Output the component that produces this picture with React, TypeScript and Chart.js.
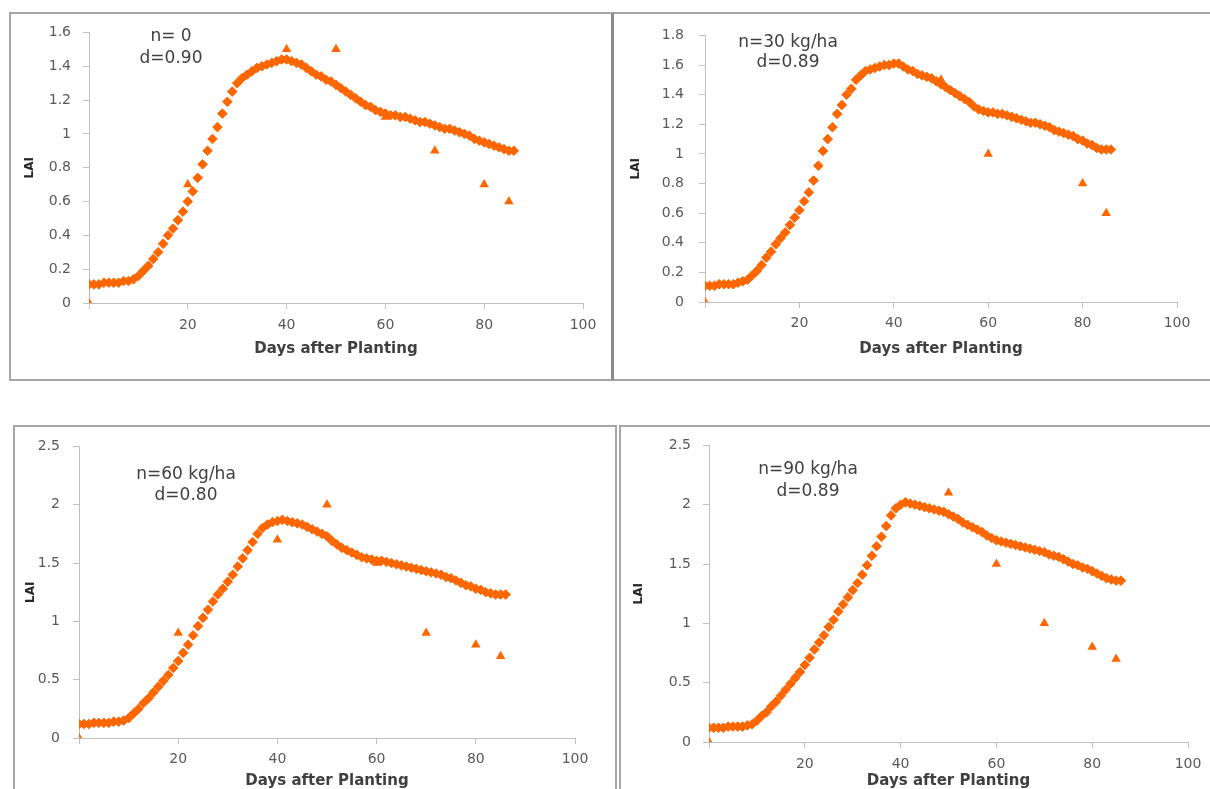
import React, { useEffect, useRef } from "react";
import { Chart, registerables } from "chart.js";

Chart.register(...registerables);

// ---------------- data ----------------
const DAYS = [
  0, 1, 2, 3, 4, 5, 6, 7, 8, 9, 10, 11, 12, 13, 14, 15, 16, 17, 18, 19,
  20, 21, 22, 23, 24, 25, 26, 27, 28, 29, 30, 31, 32, 33, 34, 35, 36, 37, 38, 39,
  40, 41, 42, 43, 44, 45, 46, 47, 48, 49, 50, 51, 52, 53, 54, 55, 56, 57, 58, 59,
  60, 61, 62, 63, 64, 65, 66, 67, 68, 69, 70, 71, 72, 73, 74, 75, 76, 77, 78, 79,
  80, 81, 82, 83, 84, 85, 86,
];

const SIM_N0 = [
  0.11, 0.11, 0.11, 0.12, 0.12, 0.12, 0.12, 0.13, 0.13, 0.14,
  0.16, 0.19, 0.22, 0.26, 0.30, 0.35, 0.40, 0.44, 0.49, 0.54,
  0.60, 0.66, 0.74, 0.82, 0.90, 0.97, 1.04, 1.12, 1.19, 1.25,
  1.30, 1.33, 1.35, 1.37, 1.39, 1.40, 1.41, 1.42, 1.43, 1.44,
  1.44, 1.43, 1.42, 1.41, 1.39, 1.37, 1.35, 1.34, 1.32, 1.31,
  1.29, 1.27, 1.25, 1.23, 1.21, 1.19, 1.17, 1.16, 1.14, 1.13,
  1.12, 1.11, 1.11, 1.10, 1.10, 1.09, 1.08, 1.07, 1.07, 1.06,
  1.05, 1.04, 1.03, 1.03, 1.02, 1.01, 1.00, 0.99, 0.97, 0.96,
  0.95, 0.94, 0.93, 0.92, 0.91, 0.90, 0.90,
];

const SIM_N30 = [
  0.11, 0.11, 0.11, 0.12, 0.12, 0.12, 0.12, 0.13, 0.14, 0.15,
  0.18, 0.21, 0.25, 0.30, 0.34, 0.39, 0.43, 0.47, 0.52, 0.57,
  0.62, 0.68, 0.74, 0.82, 0.92, 1.02, 1.10, 1.18, 1.27, 1.33,
  1.40, 1.44, 1.50, 1.53, 1.56, 1.57, 1.58, 1.59, 1.60, 1.60,
  1.61, 1.61, 1.59, 1.57, 1.56, 1.54, 1.53, 1.52, 1.51, 1.49,
  1.47, 1.45, 1.43, 1.41, 1.39, 1.37, 1.35, 1.32, 1.30, 1.29,
  1.28, 1.28, 1.27, 1.27, 1.26, 1.25, 1.24, 1.23, 1.22, 1.21,
  1.21, 1.20, 1.19, 1.18, 1.16, 1.15, 1.14, 1.13, 1.12, 1.10,
  1.09, 1.07, 1.06, 1.04, 1.03, 1.03, 1.03,
];

const SIM_N60 = [
  0.12, 0.12, 0.12, 0.13, 0.13, 0.13, 0.13, 0.14, 0.14, 0.15,
  0.17, 0.21, 0.25, 0.30, 0.34, 0.39, 0.44, 0.49, 0.54, 0.60,
  0.66, 0.73, 0.80, 0.88, 0.96, 1.03, 1.10, 1.17, 1.23, 1.28,
  1.34, 1.40, 1.47, 1.54, 1.61, 1.68, 1.75, 1.80, 1.83, 1.85,
  1.86, 1.87, 1.86, 1.85, 1.84, 1.83, 1.81, 1.79, 1.77, 1.75,
  1.73, 1.69, 1.66, 1.63, 1.61, 1.59, 1.57, 1.55, 1.54, 1.53,
  1.52, 1.52, 1.51, 1.50, 1.49, 1.48, 1.47, 1.46, 1.45, 1.44,
  1.43, 1.42, 1.41, 1.40, 1.38, 1.37, 1.35, 1.33, 1.31, 1.30,
  1.28, 1.27, 1.25, 1.24, 1.23, 1.23, 1.23,
];

const SIM_N90 = [
  0.12, 0.12, 0.12, 0.12, 0.13, 0.13, 0.13, 0.13, 0.14, 0.15,
  0.18, 0.22, 0.25, 0.30, 0.34, 0.39, 0.44, 0.49, 0.54, 0.59,
  0.65, 0.71, 0.78, 0.84, 0.90, 0.97, 1.03, 1.10, 1.16, 1.22,
  1.28, 1.34, 1.41, 1.49, 1.57, 1.65, 1.73, 1.82, 1.91, 1.97,
  2.00, 2.02, 2.01, 2.00, 1.99, 1.98, 1.97, 1.96, 1.95, 1.94,
  1.92, 1.90, 1.88, 1.85, 1.83, 1.81, 1.79, 1.77, 1.74, 1.72,
  1.70, 1.69, 1.68, 1.67, 1.66, 1.65, 1.64, 1.63, 1.62, 1.61,
  1.60, 1.58, 1.57, 1.56, 1.54, 1.52, 1.50, 1.49, 1.47, 1.46,
  1.44, 1.42, 1.40, 1.38, 1.37, 1.36, 1.36,
];

const OBS_DAYS_N0 = [0, 20, 40, 50, 60, 70, 80, 85];
const OBS_LAI_N0 = [0, 0.7, 1.5, 1.5, 1.1, 0.9, 0.7, 0.6];
const OBS_DAYS_N30 = [0, 50, 60, 80, 85];
const OBS_LAI_N30 = [0, 1.5, 1.0, 0.8, 0.6];
const OBS_DAYS_N60 = [0, 20, 40, 50, 60, 70, 80, 85];
const OBS_LAI_N60 = [0, 0.9, 1.7, 2.0, 1.5, 0.9, 0.8, 0.7];
const OBS_DAYS_N90 = [0, 50, 60, 70, 80, 85];
const OBS_LAI_N90 = [0, 2.1, 1.5, 1.0, 0.8, 0.7];

const LABEL_N = ["n= 0", "n=30 kg/ha", "n=60 kg/ha", "n=90 kg/ha"];
const LABEL_D = ["d=0.90", "d=0.89", "d=0.80", "d=0.89"];
const Y_MAX = [1.6, 1.8, 2.5, 2.5];
const Y_STEP = [0.2, 0.2, 0.5, 0.5];
const X_MAX = 100;
const X_STEP = 20;
const X_TITLE = "Days after Planting";
const Y_TITLE = "LAI";

// ---------------- layout ----------------
const ORANGE = "#FF6600";
const FONT = '"DejaVu Sans", "Open Sans", sans-serif';

type Box = { x: number; y: number; w: number; h: number };
type Area = { l: number; t: number; r: number; b: number };
type Spec = {
  idx: number;
  sim: number[];
  obsX: number[];
  obsY: number[];
  box: Box;
  area: Area;
  border: React.CSSProperties;
  laiX: number;
  titleY: number;
  annX: number;
  annY: [number, number];
  yPad: number;
  xPad: number;
};

const GRAY = "2px solid #A6A6A6";

const SPECS: Spec[] = [
  {
    idx: 0, sim: SIM_N0, obsX: OBS_DAYS_N0, obsY: OBS_LAI_N0,
    box: { x: 9, y: 12, w: 605, h: 369 },
    area: { l: 89, t: 23, r: 583, b: 303 },
    border: { borderTop: GRAY, borderLeft: GRAY, borderBottom: GRAY, borderRight: "3px solid #8C8C8C" },
    laiX: 30, titleY: 349, annX: 171, annY: [37, 59], yPad: 12, xPad: 8,
  },
  {
    idx: 1, sim: SIM_N30, obsX: OBS_DAYS_N30, obsY: OBS_LAI_N30,
    box: { x: 614, y: 12, w: 600, h: 369 },
    area: { l: 705, t: 32, r: 1177, b: 302 },
    border: { borderTop: GRAY, borderBottom: GRAY },
    laiX: 636, titleY: 349, annX: 788, annY: [43, 63], yPad: 15, xPad: 7,
  },
  {
    idx: 2, sim: SIM_N60, obsX: OBS_DAYS_N60, obsY: OBS_LAI_N60,
    box: { x: 13, y: 425, w: 604, h: 380 },
    area: { l: 79, t: 443, r: 575, b: 738 },
    border: { borderTop: GRAY, borderLeft: GRAY, borderRight: GRAY },
    laiX: 31, titleY: 781, annX: 186, annY: [475, 496], yPad: 13, xPad: 7,
  },
  {
    idx: 3, sim: SIM_N90, obsX: OBS_DAYS_N90, obsY: OBS_LAI_N90,
    box: { x: 619, y: 425, w: 600, h: 380 },
    area: { l: 709, t: 442, r: 1188, b: 742 },
    border: { borderTop: GRAY, borderLeft: GRAY },
    laiX: 639, titleY: 781, annX: 808, annY: [470, 492], yPad: 12, xPad: 8,
  },
];

const annotationPlugin = {
  id: "panelAnnotation",
  afterDraw(chart: any, _args: any, opts: any) {
    const ctx = chart.ctx as CanvasRenderingContext2D;
    ctx.save();
    ctx.font = `17px ${FONT}`;
    ctx.fillStyle = "#404040";
    ctx.textAlign = "center";
    ctx.textBaseline = "middle";
    (opts.lines as string[]).forEach((t, i) => ctx.fillText(t, opts.x, opts.y[i]));
    ctx.restore();
  },
};

function Panel({ spec }: { spec: Spec }) {
  const ref = useRef<HTMLCanvasElement>(null);
  useEffect(() => {
    const { box, area, idx } = spec;
    const yTitleSize = 12;
    const xTitleSize = 15;
    const yAxisWidth = area.l - box.x;
    const xAxisHeight = box.y + box.h - area.b;
    const chart = new Chart(ref.current as HTMLCanvasElement, {
      type: "scatter",
      data: {
        datasets: [
          {
            label: "Simulated",
            data: DAYS.map((d, i) => ({ x: d, y: spec.sim[i] })),
            pointStyle: "rectRot",
            pointRadius: 4.8,
            backgroundColor: ORANGE,
            borderColor: ORANGE,
            borderWidth: 1,
            showLine: false,
          },
          {
            label: "Observed",
            data: spec.obsX.map((d, i) => ({ x: d, y: spec.obsY[i] })),
            pointStyle: "triangle",
            pointRadius: 5.5,
            backgroundColor: ORANGE,
            borderColor: ORANGE,
            borderWidth: 0,
            showLine: false,
          },
        ],
      },
      options: {
        animation: false,
        responsive: false,
        devicePixelRatio: 1,
        layout: {
          padding: { left: 0, bottom: 0, top: area.t - box.y, right: box.x + box.w - area.r },
        },
        plugins: {
          legend: { display: false },
          tooltip: { enabled: false },
          panelAnnotation: {
            lines: [LABEL_N[idx], LABEL_D[idx]],
            x: spec.annX - box.x,
            y: [spec.annY[0] - box.y, spec.annY[1] - box.y],
          },
        } as any,
        scales: {
          x: {
            type: "linear",
            min: 0,
            max: X_MAX,
            afterFit: (s: any) => {
              s.height = xAxisHeight;
            },
            ticks: {
              stepSize: X_STEP,
              padding: spec.xPad,
              color: "#595959",
              font: { family: FONT, size: 14 },
              maxRotation: 0,
              callback: (v: any) => (Number(v) === 0 ? "" : String(v)),
            },
            grid: { drawOnChartArea: false, drawTicks: true, tickLength: 6, color: "#BFBFBF" },
            border: { display: true, color: "#BFBFBF", width: 1 },
            title: {
              display: true,
              text: X_TITLE,
              color: "#404040",
              font: { family: FONT, size: xTitleSize, weight: "bold" },
              padding: { top: 0, bottom: box.y + box.h - spec.titleY - (xTitleSize * 1.2) / 2 },
            },
          },
          y: {
            type: "linear",
            min: 0,
            max: Y_MAX[idx],
            afterFit: (s: any) => {
              s.width = yAxisWidth;
            },
            ticks: {
              stepSize: Y_STEP[idx],
              padding: spec.yPad,
              color: "#595959",
              font: { family: FONT, size: 14 },
              callback: (v: any) => String(Number(Number(v).toFixed(1))),
            },
            grid: { drawOnChartArea: false, drawTicks: true, tickLength: 6, color: "#BFBFBF" },
            border: { display: true, color: "#BFBFBF", width: 1 },
            title: {
              display: true,
              text: Y_TITLE,
              color: "#262626",
              font: { family: FONT, size: yTitleSize, weight: "bold" },
              padding: { top: spec.laiX - box.x - (yTitleSize * 1.2) / 2, bottom: 0 },
            },
          },
        },
      },
      plugins: [annotationPlugin],
    } as any);
    return () => chart.destroy();
  }, [spec]);

  const { box } = spec;
  return (
    <>
      <div
        style={{
          position: "absolute",
          left: box.x,
          top: box.y,
          width: box.w,
          height: box.h,
          boxSizing: "border-box",
          ...spec.border,
        }}
      />
      <canvas
        ref={ref}
        width={box.w}
        height={box.h}
        style={{ position: "absolute", left: box.x, top: box.y, width: box.w, height: box.h }}
      />
    </>
  );
}

export default function App() {
  return (
    <div
      style={{
        position: "fixed",
        left: 0,
        top: 0,
        width: 1210,
        height: 789,
        overflow: "hidden",
        background: "#ffffff",
      }}
    >
      {SPECS.map((s) => (
        <Panel key={s.idx} spec={s} />
      ))}
    </div>
  );
}
